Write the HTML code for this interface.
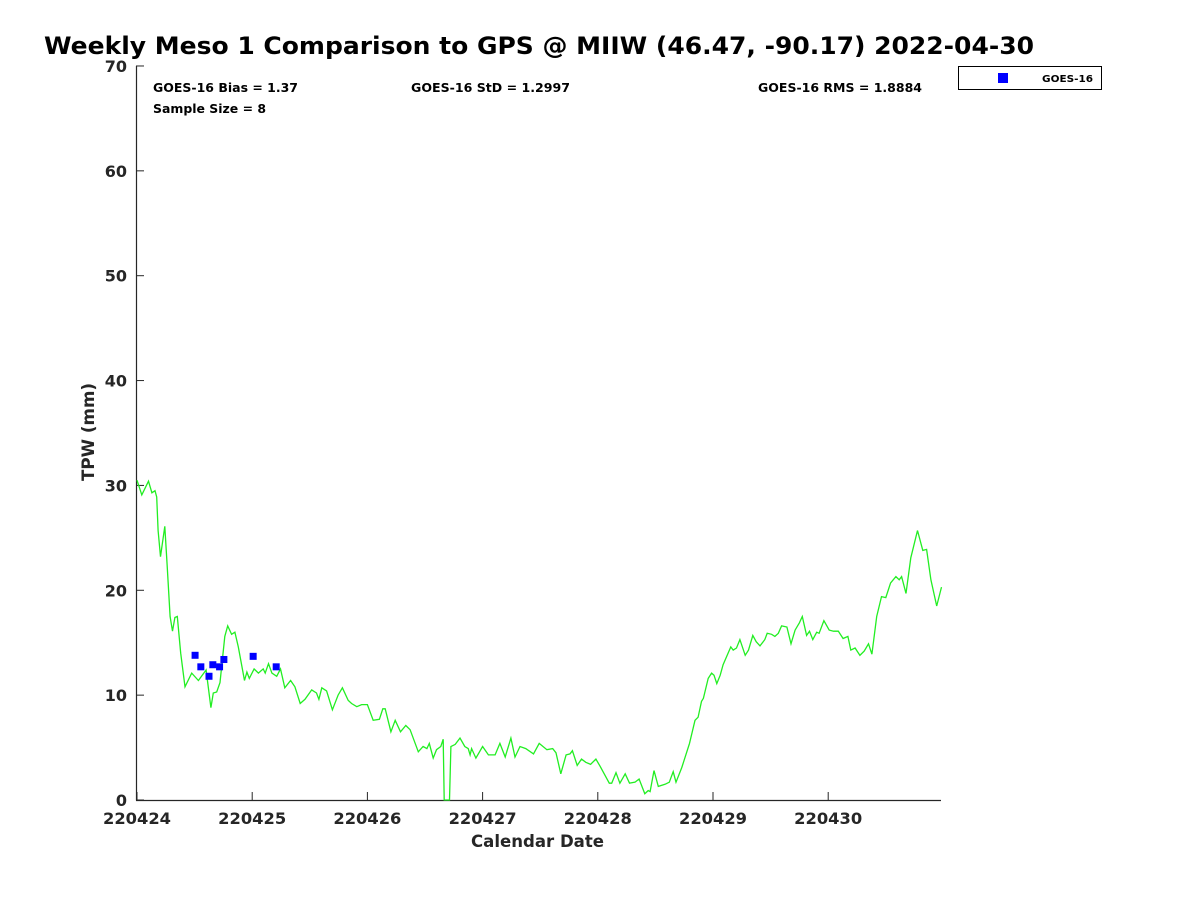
<!DOCTYPE html>
<html><head><meta charset="utf-8"><style>
body{margin:0;background:#fff;}
svg{display:block;font-family:"DejaVu Sans","Liberation Sans",sans-serif;}
</style></head><body>
<svg id="chart" width="1200" height="900" viewBox="0 0 1200 900">
<rect width="1200" height="900" fill="#fff"/>
<text x="44" y="54" font-size="24" font-weight="bold" fill="#000" textLength="990" lengthAdjust="spacingAndGlyphs">Weekly Meso 1 Comparison to GPS @ MIIW (46.47, -90.17) 2022-04-30</text>
<g id="axes"></g>
<g id="series"></g>
<text x="153" y="92" font-size="12" font-weight="bold" textLength="145" lengthAdjust="spacingAndGlyphs">GOES-16 Bias = 1.37</text>
<text x="411" y="92" font-size="12" font-weight="bold" textLength="159" lengthAdjust="spacingAndGlyphs">GOES-16 StD = 1.2997</text>
<text x="758" y="92" font-size="12" font-weight="bold" textLength="164" lengthAdjust="spacingAndGlyphs">GOES-16 RMS = 1.8884</text>
<text x="153" y="113" font-size="12" font-weight="bold" textLength="113" lengthAdjust="spacingAndGlyphs">Sample Size = 8</text>
<g>
<rect x="958.5" y="66.5" width="143" height="23" fill="#fff" stroke="#000"/>
<rect x="998" y="73" width="10" height="10" fill="#0000ff"/>
<text x="1042" y="82" font-size="10" font-weight="bold" textLength="51" lengthAdjust="spacingAndGlyphs">GOES-16</text>
</g>
<text x="471" y="847" font-size="17" font-weight="bold" fill="#262626" textLength="133" lengthAdjust="spacingAndGlyphs">Calendar Date</text>
<text transform="translate(94,481) rotate(-90)" font-size="17" font-weight="bold" fill="#262626" textLength="98" lengthAdjust="spacingAndGlyphs">TPW (mm)</text>
</svg>
<script>
const xTickLabels = ["220424","220425","220426","220427","220428","220429","220430"];
const yTickValues = [0,10,20,30,40,50,60,70];
const gpsHours = [0,1,2.4,3.1,3.75,4.1,4.4,4.9,5.8,6.3,6.9,7.4,7.9,8.4,9.1,10,11.4,12.8,14.4,15.4,15.9,16.6,17.3,18.3,18.9,19.7,20.4,21.1,22.4,22.9,23.4,24.4,25.3,26.3,26.7,27.4,28.1,29.1,29.9,30.8,32,32.9,34,35,36.4,37.4,37.9,38.5,39.5,40.7,41.9,42.8,44,44.7,45.8,46.8,48,49.2,50.5,51.2,51.7,52.9,53.8,54.9,56,56.9,58.6,59.6,60.4,60.9,61.7,62.4,63.3,63.8,64,65.1,65.4,66.3,67.3,68.3,69,69.4,69.7,70.6,72,73.2,74.6,75.6,76.7,77.9,78.75,79.8,81,82.6,83.8,85.4,86.6,87.3,88.3,89.4,90.2,90.7,91.7,92.6,93.5,94.5,95.6,96.5,98.4,98.9,99.8,100.6,101.7,102.6,103.75,104.6,105.8,106.5,106.9,107.7,108.6,110,110.9,111.7,112.3,113.5,115.1,116.25,116.9,117.6,118,119,119.7,120.2,120.8,121.5,122.1,123.7,124.2,124.9,125.6,126.7,127.4,128.3,129,129.8,130.8,131.3,132.2,132.9,133.6,134.3,135.4,136.25,137.1,138,138.6,139.5,140.1,140.8,141.6,142.1,143.1,144.2,145.1,146.1,147.1,148.1,148.7,149.6,150.6,151.5,152.4,153.1,154.1,155.1,156,157,158.1,158.8,159.3,160.2,161.2,162.6,163.7,164.5,165.4,166.6,167.6];
const gpsTpw = [30.5,29.1,30.4,29.3,29.5,28.9,25.7,23.2,26.1,22.3,17.5,16.1,17.4,17.5,14.0,10.8,12.1,11.4,12.4,8.8,10.2,10.3,11.2,15.6,16.6,15.8,16.0,14.6,11.4,12.2,11.6,12.5,12.1,12.5,12.1,13.0,12.1,11.8,12.5,10.7,11.4,10.8,9.2,9.6,10.5,10.2,9.6,10.7,10.4,8.6,10.0,10.7,9.5,9.2,8.9,9.1,9.1,7.6,7.7,8.7,8.7,6.5,7.6,6.5,7.1,6.7,4.6,5.1,4.9,5.4,4.0,4.8,5.1,5.8,0,0,5.1,5.3,5.9,5.1,4.9,4.3,4.9,4.0,5.1,4.3,4.3,5.4,4.1,5.9,4.1,5.1,4.9,4.4,5.4,4.8,4.9,4.5,2.5,4.3,4.4,4.7,3.3,3.9,3.6,3.4,3.9,3.2,1.6,1.6,2.6,1.6,2.5,1.6,1.7,2.0,0.6,0.9,0.8,2.8,1.3,1.5,1.7,2.7,1.7,3.1,5.4,7.6,7.9,9.4,9.7,11.6,12.1,11.9,11.1,11.9,12.9,14.6,14.3,14.5,15.3,13.8,14.3,15.7,15.1,14.7,15.3,15.9,15.8,15.6,15.9,16.6,16.5,14.9,16.2,16.9,17.5,15.7,16.1,15.3,16.0,15.9,17.1,16.2,16.1,16.1,15.4,15.6,14.3,14.5,13.8,14.2,14.9,13.9,17.5,19.4,19.3,20.7,21.3,21.0,21.3,19.7,23.1,25.7,23.8,23.9,21.0,18.5,20.3];
const goesHours = [12.1,13.3,15.0,15.8,17.2,18.1,24.2,29.0];
const goesTpw = [13.8,12.7,11.8,12.9,12.7,13.4,13.7,12.7];

const NS="http://www.w3.org/2000/svg";
const x0=137, pxPerHour=4.8, y0=800, pxPerMm=10.486;
function xs(h){return x0+h*pxPerHour;}
function ys(v){return y0-v*pxPerMm;}
function mk(tag,attrs,parent){const e=document.createElementNS(NS,tag);for(const k in attrs)e.setAttribute(k,attrs[k]);parent.appendChild(e);return e;}
const axes=document.getElementById('axes');
const series=document.getElementById('series');
let e=mk('line',{x1:136.5,y1:66,x2:136.5,y2:800.5,stroke:'#262626','stroke-width':1.2},axes);


e=mk('line',{x1:136,y1:800.5,x2:941,y2:800.5,stroke:'#262626','stroke-width':1.2},axes);


yTickValues.forEach(v=>{
  const y=ys(v);
  let t=mk('line',{x1:136,y1:y,x2:144,y2:y,stroke:'#262626'},axes);
  
  
  let l=mk('text',{x:127,y:y+6,'font-size':16,'font-weight':'bold','text-anchor':'end',fill:'#262626'},axes);
  l.textContent=v;
  
  
});
xTickLabels.forEach((lab,i)=>{
  const x=xs(i*24);
  let t=mk('line',{x1:x,y1:800,x2:x,y2:792,stroke:'#262626'},axes);
  
  
  let l=mk('text',{x:x-34,y:824,'font-size':16,'font-weight':'bold',fill:'#262626',textLength:68,lengthAdjust:'spacingAndGlyphs'},axes);
  l.textContent=lab;
  
  
});
const pts=gpsHours.map((h,i)=>xs(h).toFixed(1)+','+ys(gpsTpw[i]).toFixed(1)).join(' ');
const pl=mk('polyline',{points:pts,fill:'none',stroke:'#22ee22','stroke-width':1.3},series);


goesHours.forEach((h,i)=>{
  const r=mk('rect',{x:xs(h)-3.5,y:ys(goesTpw[i])-3.5,width:7,height:7,fill:'#0000ff'},series);
  
  
});
</script>
</body></html>
